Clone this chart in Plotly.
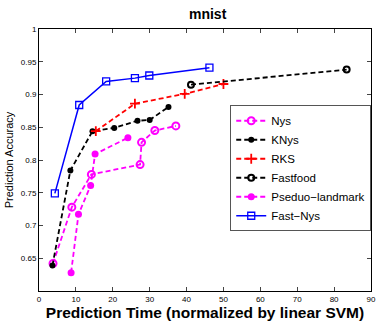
import plotly.graph_objects as go

nys_x = [3.8, 8.9, 14.2, 27.4, 27.8, 31.4, 37.1]
nys_y = [0.642, 0.728, 0.778, 0.793, 0.827, 0.845, 0.852]

knys_x = [3.65, 8.5, 14.5, 20.4, 26.7, 30.0, 35.1]
knys_y = [0.639, 0.784, 0.844, 0.849, 0.860, 0.861, 0.881]

rks_x = [15.4, 26.0, 39.5, 50.0]
rks_y = [0.844, 0.886, 0.901, 0.916]

ff_x = [41.2, 83.4]
ff_y = [0.915, 0.938]

pl_x = [8.7, 10.7, 14.0, 15.2, 24.1]
pl_y = [0.628, 0.717, 0.761, 0.809, 0.834]

fn_x = [4.3, 10.9, 18.2, 26.0, 29.9, 46.2]
fn_y = [0.749, 0.884, 0.920, 0.925, 0.929, 0.941]

x_ticks = [0, 10, 20, 30, 40, 50, 60, 70, 80, 90]
y_ticks = [0.6, 0.65, 0.7, 0.75, 0.8, 0.85, 0.9, 0.95, 1.0]
y_labels = ["", "0.65", "0.7", "0.75", "0.8", "0.85", "0.9", "0.95", "1"]

MAG = "#ff00ff"
DASH = "5px,3px"
fig = go.Figure()
fig.add_trace(go.Scatter(x=nys_x, y=nys_y, name="Nys", mode="lines+markers",
                         line=dict(color=MAG, width=1.8, dash=DASH),
                         marker=dict(symbol="circle-open", size=7, color=MAG, line=dict(width=2))))
fig.add_trace(go.Scatter(x=knys_x, y=knys_y, name="KNys", mode="lines+markers",
                         line=dict(color="black", width=1.8, dash=DASH),
                         marker=dict(symbol="circle", size=6, color="black")))
fig.add_trace(go.Scatter(x=rks_x, y=rks_y, name="RKS", mode="lines+markers",
                         line=dict(color="red", width=1.8, dash=DASH),
                         marker=dict(symbol="cross-thin-open", size=7, color="red", line=dict(width=1.8, color="red"))))
fig.add_trace(go.Scatter(x=ff_x, y=ff_y, name="Fastfood", mode="lines+markers",
                         line=dict(color="black", width=1.8, dash=DASH),
                         marker=dict(symbol="circle-open", size=6, color="black", line=dict(width=2))))
fig.add_trace(go.Scatter(x=pl_x, y=pl_y, name="Pseduo\u2212landmark", mode="lines+markers",
                         line=dict(color=MAG, width=1.8, dash=DASH),
                         marker=dict(symbol="circle", size=7, color=MAG)))
fig.add_trace(go.Scatter(x=fn_x, y=fn_y, name="Fast\u2212Nys", mode="lines+markers",
                         line=dict(color="blue", width=1.5),
                         marker=dict(symbol="square-open", size=7, color="blue", line=dict(width=1.3))))

fig.update_layout(
    width=381, height=321,
    margin=dict(l=39, r=5, t=29, b=27),
    paper_bgcolor="white", plot_bgcolor="white",
    font=dict(family="Liberation Sans, Arial, sans-serif", color="black"),
    title=dict(text="<b>mnist</b>", x=0.545, xanchor="center", y=0.955, yanchor="middle",
               font=dict(size=14)),
    legend=dict(x=0.576, y=0.709, xanchor="left", yanchor="top",
                bordercolor="#555555", borderwidth=1, bgcolor="white",
                font=dict(size=11.5), tracegroupgap=0, itemwidth=30),
    showlegend=True,
)
fig.update_xaxes(range=[0, 90], tickvals=x_ticks, ticks="inside", ticklen=4,
                 showline=True, linecolor="black", linewidth=1, mirror="ticks",
                 showgrid=False, zeroline=False, tickfont=dict(size=8),
                 title=dict(text="<b>Prediction Time (normalized by linear SVM)</b>",
                            font=dict(size=15.5), standoff=2))
fig.update_yaxes(range=[0.6, 1.0], tickvals=y_ticks, ticktext=y_labels, ticks="inside", ticklen=4,
                 showline=True, linecolor="black", linewidth=1, mirror="ticks",
                 showgrid=False, zeroline=False, tickfont=dict(size=8),
                 title=dict(text="Prediction Accuracy", font=dict(size=11), standoff=4))

fig.write_html("out.html")
